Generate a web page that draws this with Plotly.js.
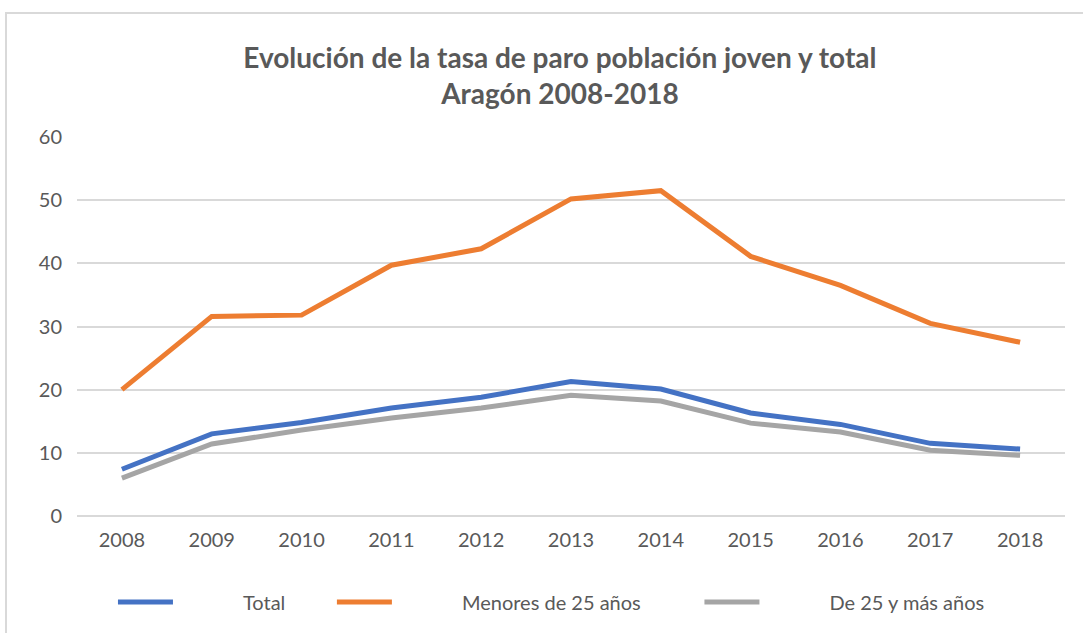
<!DOCTYPE html>
<html>
<head>
<meta charset="utf-8">
<script src="https://cdn.plot.ly/plotly-3.0.1.min.js"></script>
<style>
  body { margin: 0; background: #fff; }
  #frame { position: absolute; left: 5px; top: 12px; width: 1100px; height: 640px; border: 2px solid #d9d9d9; }
  #chart { position: absolute; left: 0; top: 0; width: 1083px; height: 633px; }
</style>
</head>
<body>
<div id="frame"></div>
<div id="chart"></div>
<script>
const years = ["2008", "2009", "2010", "2011", "2012", "2013", "2014", "2015", "2016", "2017", "2018"];
const total = [7.4, 13.0, 14.8, 17.1, 18.8, 21.3, 20.1, 16.3, 14.5, 11.5, 10.6];
const menores25 = [20.0, 31.6, 31.8, 39.7, 42.3, 50.2, 51.5, 41.1, 36.5, 30.5, 27.5];
const de25ymas = [6.0, 11.4, 13.6, 15.5, 17.1, 19.1, 18.2, 14.7, 13.3, 10.4, 9.6];

// gap between legend line and its text, as in the original
const gap = "\u2003\u2003\u2003\u2003\u2009\u2009";

const mkTrace = (y, name, color, legend) => ({
	type: "scatter",
	mode: "lines",
	x: years,
	y: y,
	name: gap + name,
	legend: legend,
	line: { color: color, width: 5 }
});

let traces = [
	mkTrace(total, "Total", "#4472C4", "legend"),
	mkTrace(menores25, "Menores de 25 años", "#ED7D31", "legend2"),
	mkTrace(de25ymas, "De 25 y más años", "#A5A5A5", "legend3")
];

// one legend per entry so each one sits where the original has it
const mkLegend = (x) => ({
	orientation: "h",
	x: x,
	xanchor: "left",
	y: -0.224,
	yanchor: "middle",
	font: { size: 20, color: "#595959" },
	itemwidth: 55,
	bgcolor: "rgba(0,0,0,0)"
});

let layout = {
	width: 1083,
	height: 633,
	margin: { l: 77, r: 18, t: 137, b: 116 },
	paper_bgcolor: "rgba(0,0,0,0)",
	plot_bgcolor: "rgba(0,0,0,0)",
	font: { family: "Lato, sans-serif", color: "#595959", size: 20 },
	title: {
		text: "<b>Evolución de la tasa de paro población joven y total<br>Aragón 2008-2018</b>",
		font: { size: 28, color: "#595959" },
		x: 0.517,
		xanchor: "center",
		y: 0.893,
		yanchor: "middle"
	},
	xaxis: {
		type: "category",
		range: [-0.5, 10.5],
		showgrid: false,
		showline: false,
		zeroline: false,
		ticks: "",
		ticklabelstandoff: 10
	},
	yaxis: {
		range: [0, 60],
		dtick: 10,
		gridcolor: "#d9d9d9",
		gridwidth: 2,
		zeroline: true,
		zerolinecolor: "#d9d9d9",
		zerolinewidth: 2,
		showline: false,
		ticks: "",
		ticklabelstandoff: 14
	},
	showlegend: true,
	legend: mkLegend(0.0364),
	legend2: mkLegend(0.258),
	legend3: mkLegend(0.630)
};

Plotly.newPlot("chart", traces, layout, { displayModeBar: false });
</script>
</body>
</html>
